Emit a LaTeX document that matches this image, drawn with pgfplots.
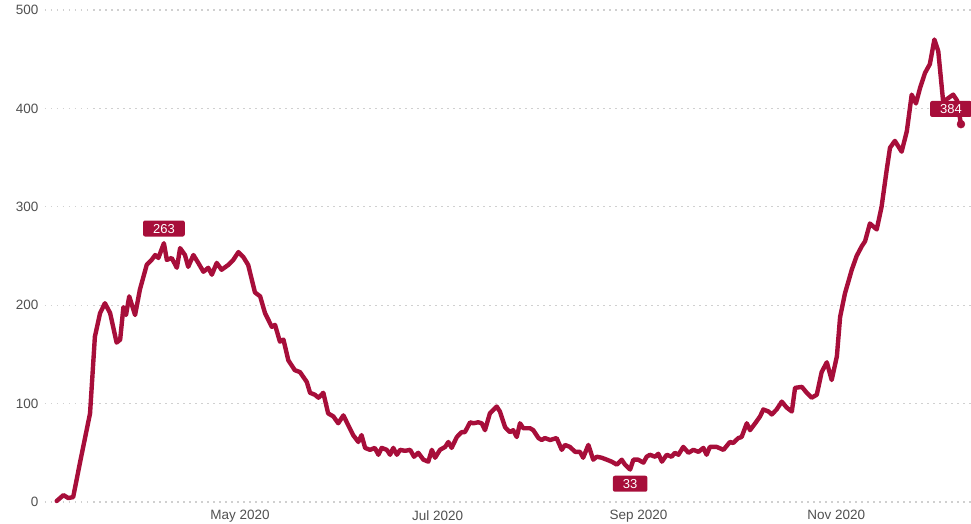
\documentclass[border=0pt]{standalone}
\usepackage{fontspec}
\setmainfont{Liberation Sans}
\usepackage{pgfplots}
\pgfplotsset{compat=1.18}
\definecolor{crimson}{RGB}{167,14,58}
\definecolor{gridgray}{RGB}{208,208,208}
\definecolor{ticktext}{RGB}{80,80,80}
\tikzset{lab/.style={fill=crimson, text=white, rounded corners=2pt, inner xsep=10pt,
    inner ysep=3.3pt, text height=9.4pt, text depth=0pt,
    font=\fontsize{13}{15}\selectfont}}
% x = days since 1 Mar 2020
\begin{document}
\begin{tikzpicture}
\useasboundingbox (-45pt,-21pt) rectangle (926pt,502pt);
\begin{axis}[
  at={(0,0)}, anchor=south west,
  scale only axis, width=926pt, height=492pt,
  xmin=0.8, xmax=286.6, ymin=0, ymax=500,
  clip=false,
  axis line style={draw=none},
  major tick length=0pt,
  ytick={0,100,200,300,400,500},
  xtick={61,122,184,245},
  xticklabels={May 2020,Jul 2020,Sep 2020,Nov 2020},
  ymajorgrids,
  grid style={gridgray, line width=1.2pt, dash pattern=on 1.5pt off 4.5pt},
  /pgf/number format/assume math mode=true,
  ticklabel style={font=\fontsize{13.5}{16}\selectfont, text=ticktext},
  yticklabel style={xshift=-3pt},
  xticklabel style={yshift=-5pt},
]
\addplot[crimson, line width=4.4pt, line join=round, line cap=round] coordinates {
(4.4,1) (6.5,7) (8.0,4) (9.5,5) (11.6,40) (14.7,90) (16.2,168) (17.8,192)
(19.3,202) (20.9,192) (22.9,162) (24.0,165) (25.0,198) (25.8,190) (26.8,209)
(28.6,190) (30.1,216) (32.2,241) (33.7,246) (34.8,251) (35.8,248) (37.5,263)
(38.4,246) (39.9,248) (41.5,238) (42.5,258) (44.0,251) (45.0,239) (46.6,251)
(48.1,243) (49.7,234) (51.2,238) (52.3,231) (53.8,243) (55.3,236) (57.4,241)
(58.9,246) (60.5,254) (62.0,249) (63.5,241) (65.6,213) (67.2,209) (68.7,192)
(70.8,178) (71.8,180) (73.3,163) (74.4,165) (75.9,144) (77.9,134) (79.5,132)
(81.6,122) (82.6,111) (84.1,109) (85.2,106) (86.7,111) (88.2,90) (89.8,87)
(91.3,80) (92.9,88) (94.4,78) (95.9,68) (97.5,61) (98.5,68) (99.6,55)
(101.1,53) (102.6,55) (103.7,48) (104.7,55) (106.3,53) (107.3,48) (108.3,55)
(109.4,48) (110.4,53) (111.9,52) (113.5,53) (114.7,46) (116.0,50) (117.6,43)
(119.1,41) (120.2,53) (121.2,45) (122.7,53) (124.3,56) (125.3,61) (126.3,55)
(127.9,66) (129.4,71) (130.4,71) (132.0,81) (133.0,80) (134.5,81) (135.6,80)
(136.6,73) (138.1,90) (140.2,97) (141.2,92) (142.8,76) (144.3,71) (145.3,73)
(146.4,66) (147.4,80) (148.4,75) (150.5,75) (151.5,73) (153.1,65) (154.1,63)
(155.1,65) (156.7,63) (158.7,65) (160.3,53) (161.3,58) (162.8,56) (164.4,51)
(165.9,51) (166.9,45) (168.5,58) (170.0,43) (171.1,46) (172.6,45) (174.2,43)
(175.7,41) (177.3,38) (178.8,43) (179.8,38) (181.4,33) (182.4,43) (183.9,43)
(185.5,40) (186.5,46) (187.5,48) (189.1,46) (190.1,49) (191.2,41) (192.7,48)
(194.2,46) (195.2,50) (196.3,48) (197.8,56) (199.4,50) (200.9,53) (202.5,51)
(204.0,55) (205.0,48) (206.0,56) (208.1,56) (210.2,53) (212.2,61) (213.2,60)
(214.8,65) (215.8,66) (217.4,80) (218.4,73) (220.0,80) (221.5,87) (222.5,94)
(224.1,92) (225.1,89) (226.6,94) (228.2,102) (229.7,96) (231.3,92) (232.3,116)
(234.4,117) (235.9,111) (237.4,106) (239.0,109) (240.5,132) (242.1,142)
(243.6,124) (245.2,148) (246.2,188) (247.7,212) (249.8,236) (251.3,250)
(252.9,260) (253.9,265) (255.4,283) (257.5,277) (259.0,300) (260.6,338)
(261.6,360) (263.1,367) (265.2,356) (266.8,377) (268.3,414) (269.6,405)
(270.9,421) (272.4,436) (273.9,445) (275.3,470) (276.5,458) (278.0,407)
(279.4,410) (281.1,414) (282.3,408) (283.5,384)
};
\addplot[crimson, only marks, mark=*, mark size=4pt] coordinates {(283.5,384)};
\node[lab, anchor=south, yshift=6.5pt] at (axis cs:37.5,263) {263};
\node[lab, anchor=north, yshift=-6pt] at (axis cs:181.4,33) {33};
\node[lab, anchor=south, xshift=-10pt, yshift=7pt] at (axis cs:283.5,384) {384};
\end{axis}
\end{tikzpicture}
\end{document}
